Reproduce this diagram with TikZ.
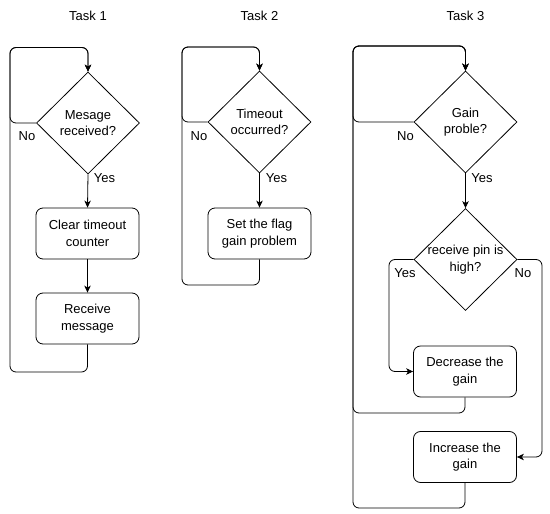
\documentclass[tikz,border=0pt]{standalone}
\usepackage{fontspec}
\setmainfont{Liberation Sans}
\usetikzlibrary{shapes.geometric,arrows.meta}
\newcommand{\fs}{\fontsize{13}{16.5}\selectfont}
\tikzset{
  box/.style={draw, line width=0.8pt, rounded corners=7pt, minimum width=103pt, minimum height=51pt, inner sep=0pt, align=center, font=\fs},
  dia/.style={draw, line width=0.8pt, diamond, minimum width=103pt, minimum height=102pt, inner sep=0pt},
  txt/.style={align=center, font=\fs, inner sep=0pt},
  lbl/.style={font=\fs, inner sep=0pt},
  conn/.style={line width=0.8pt, rounded corners=6pt, -{Stealth[length=7pt,width=6.5pt,inset=2pt]}},
}
\begin{document}
\begin{tikzpicture}[x=1pt,y=-1pt]
\useasboundingbox (0,0) rectangle (550,514);
% titles
\node[lbl] (t1) at (88,15.5) {Task 1};
\node[lbl] (t2) at (259.5,15.5) {Task 2};
\node[lbl] (t3) at (465.5,15.5) {Task 3};
% Task 1
\node[dia] (d1) at (88,123) {};
\node[txt] (d1t) at (88,123) {Mesage\\received?};
\node[box] (b1) at (87.5,233.5) {Clear timeout\\counter};
\node[box] (b2) at (87.5,318.5) {Receive\\message};
\coordinate (tl1) at (10,47.5);
\coordinate (bl1) at (10,372);
\draw[conn] (d1.west) -| (tl1) -| (d1.north);
\draw[conn] (b2.south) |- (bl1) -- (tl1) -| (d1.north);
\draw[conn] (d1.south) -- (b1.north);
\draw[conn] (b1.south) -- (b2.north);
\node[lbl] (n1) at (27,136.5) {No};
\node[lbl] (y1) at (104.5,178) {Yes};
% Task 2
\node[dia] (d2) at (259.5,122) {};
\node[txt] (d2t) at (259.5,122) {Timeout\\occurred?};
\node[box] (b3) at (259.5,233.5) {Set the flag\\gain problem};
\coordinate (tl2) at (182,47);
\coordinate (bl2) at (182,285);
\draw[conn] (d2.west) -| (tl2) -| (d2.north);
\draw[conn] (b3.south) |- (bl2) -- (tl2) -| (d2.north);
\draw[conn] (d2.south) -- (b3.north);
\node[lbl] (n2) at (199,136.5) {No};
\node[lbl] (y2) at (276.5,178) {Yes};
% Task 3
\node[dia] (d3) at (465.5,122) {};
\node[txt] (d3t) at (465.5,122) {Gain\\proble?};
\node[dia] (d4) at (465.5,259.5) {};
\node[txt] (d4t) at (465.5,259.5) {receive pin is\\high?};
\node[box] (dec) at (465,371.5) {Decrease the\\gain};
\node[box] (inc) at (465,457) {Increase the\\gain};
\coordinate (tl3) at (353,46);
\coordinate (ml3) at (353,413);
\coordinate (bl3) at (353,508);
\coordinate (yl) at (389,0);
\coordinate (nr) at (542,0);
\draw[conn] (d3.west) -| (tl3) -| (d3.north);
\draw[conn] (dec.south) |- (ml3) -- (tl3) -| (d3.north);
\draw[conn] (inc.south) |- (bl3) -- (tl3) -| (d3.north);
\draw[conn] (d3.south) -- (d4.north);
\draw[conn] (d4.west) -- (d4.west -| yl) |- (dec.west);
\draw[conn] (d4.east) -- (d4.east -| nr) |- (inc.east);
\node[lbl] (n3) at (405.5,136.5) {No};
\node[lbl] (y3) at (482,178) {Yes};
\node[lbl] (y4) at (405,273) {Yes};
\node[lbl] (n4) at (523,273) {No};
\end{tikzpicture}
\end{document}
